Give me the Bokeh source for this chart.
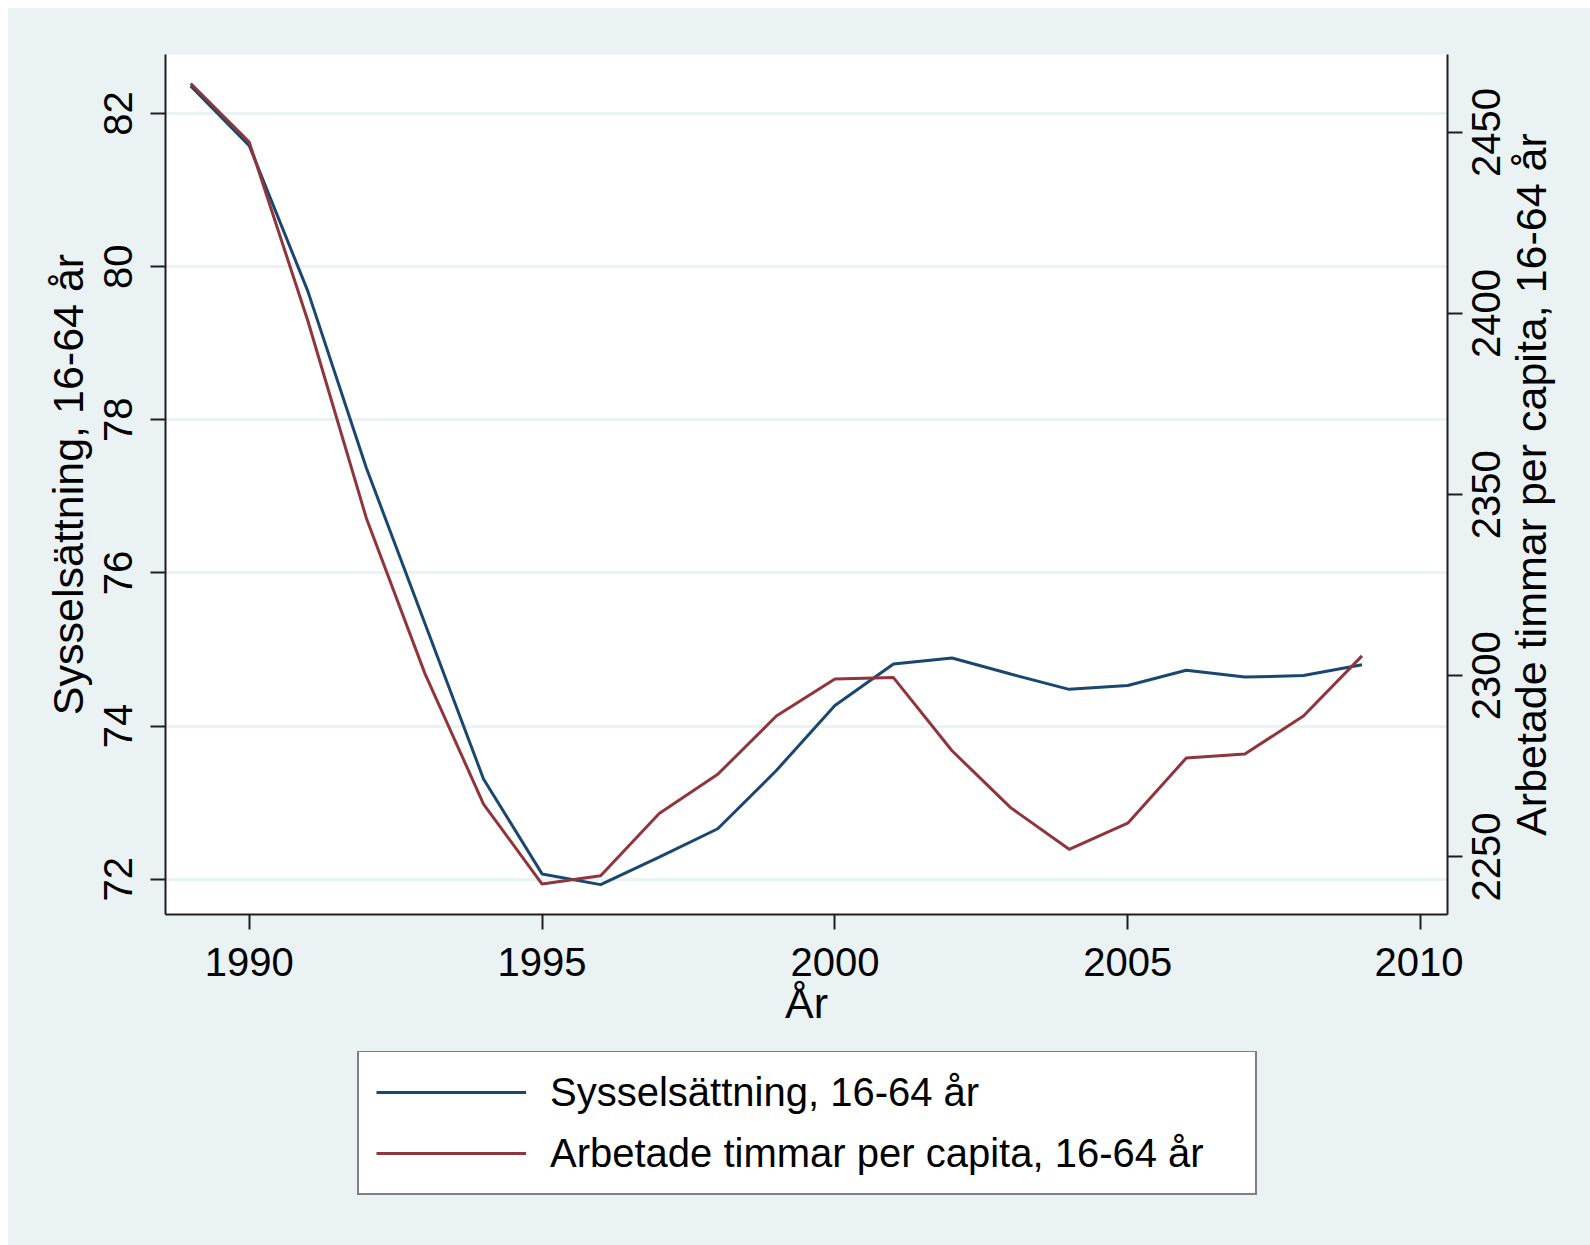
import math
from bokeh.plotting import figure
from bokeh.models import Range1d, LinearAxis, Legend, LegendItem, FixedTicker, Spacer
from bokeh.layouts import column, row
from bokeh.embed import file_html
from bokeh.resources import INLINE
from bokeh.core.properties import value

# ---- data ----
years = list(range(1989, 2010))
sysselsattning = [82.36, 81.58, 79.68, 77.37, 75.34, 73.31, 72.07, 71.93, 72.29, 72.66,
                  73.42, 74.27, 74.81, 74.89, 74.68, 74.48, 74.53, 74.73, 74.64, 74.66, 74.80]
timmar = [2463.5, 2447.3, 2398.0, 2343.5, 2300.6, 2264.6, 2242.5, 2244.8, 2262.0, 2272.8,
          2288.9, 2299.1, 2299.5, 2279.3, 2263.6, 2252.1, 2259.3, 2277.3, 2278.4, 2288.9, 2305.5]
x_ticks = [1990, 1995, 2000, 2005, 2010]
left_ticks = [72, 74, 76, 78, 80, 82]
right_ticks = [2250, 2300, 2350, 2400, 2450]
label_left = "Sysselsättning, 16-64 år"
label_right = "Arbetade timmar per capita, 16-64 år"
label_x = "År"

FONT = "Liberation Sans"
BG = "#EAF2F3"
NAVY = "#1A476F"
MAROON = "#90353B"
AX = "#1E1E1E"

X_RANGE = (1988.57, 2010.46)
YL_RANGE = (71.54, 82.77)
YR_RANGE = (2234.1, 2471.5)

W_TOTAL = 1582
H_TOTAL = 1237
FRAME_TOP = 46
FRAME_H = 860
FRAME_LEFT = 157
FRAME_W = 1282
FRAME_RIGHT_BORDER = 16
W_MAIN = FRAME_LEFT + FRAME_W + FRAME_RIGHT_BORDER   # main chart + legend strip width
W_RIGHT = W_TOTAL - W_MAIN
H_MAIN = 1043
H_LEG = H_TOTAL - H_MAIN
SHIFT = 20 - FRAME_RIGHT_BORDER   # keep right-strip texts at the same page position

p = figure(width=W_MAIN, height=H_MAIN, output_backend="svg", toolbar_location=None,
           x_range=Range1d(*X_RANGE), y_range=Range1d(*YL_RANGE),
           min_border_left=FRAME_LEFT, min_border_right=FRAME_RIGHT_BORDER,
           min_border_top=FRAME_TOP, min_border_bottom=H_MAIN - FRAME_TOP - FRAME_H,
           background_fill_color="white", border_fill_color=BG, outline_line_color=None)

p.extra_y_ranges = {"r": Range1d(*YR_RANGE)}
raxis = LinearAxis(y_range_name="r")
p.add_layout(raxis, "right")

for ax in p.axis:
    ax.axis_line_color = AX
    ax.axis_line_width = 2
    ax.major_tick_line_color = AX
    ax.major_tick_line_width = 2
    ax.major_tick_out = 15
    ax.major_tick_in = 0
    ax.minor_tick_line_color = None
    ax.major_label_text_font = FONT
    ax.major_label_text_font_size = "40px"
    ax.major_label_text_color = "black"
    ax.axis_label_text_font = FONT
    ax.axis_label_text_font_size = "43px"
    ax.axis_label_text_font_style = "normal"
    ax.axis_label_text_color = "black"

p.xaxis.ticker = FixedTicker(ticks=x_ticks)
p.xaxis.axis_label = label_x
p.xaxis.major_label_standoff = 18
p.xaxis.axis_label_standoff = 0

p.yaxis[0].ticker = FixedTicker(ticks=left_ticks)
p.yaxis[0].axis_label = label_left
p.yaxis[0].major_label_orientation = "vertical"
p.yaxis[0].major_label_standoff = 18
p.yaxis[0].axis_label_standoff = 10

# right axis: line + ticks here, its rotated labels are drawn in the strip to the right
raxis.ticker = FixedTicker(ticks=right_ticks)
raxis.major_label_overrides = {t: "" for t in right_ticks}
raxis.major_label_text_font_size = "0px"
raxis.major_label_standoff = 0

p.xgrid.visible = False
p.ygrid.ticker = FixedTicker(ticks=left_ticks)
p.ygrid.grid_line_color = BG
p.ygrid.grid_line_width = 3

p.line(years, sysselsattning, line_color=NAVY, line_width=3)
p.line(years, timmar, line_color=MAROON, line_width=3, y_range_name="r")

# ---- legend strip under the chart ----
q = figure(width=W_MAIN, height=H_LEG, output_backend="svg", toolbar_location=None,
           x_range=Range1d(0, 1), y_range=Range1d(0, 1),
           x_axis_location=None, y_axis_location=None,
           min_border_left=FRAME_LEFT, min_border_right=FRAME_RIGHT_BORDER,
           min_border_top=0, min_border_bottom=0,
           background_fill_color=BG, border_fill_color=BG, outline_line_color=None)
q.grid.visible = False
# same series, outside this strip's ranges: only their legend keys show
k1 = q.line(years, sysselsattning, line_color=NAVY, line_width=3)
k2 = q.line(years, timmar, line_color=MAROON, line_width=3)

legend = Legend(items=[LegendItem(label=label_left, renderers=[k1]),
                       LegendItem(label=label_right, renderers=[k2])],
                location=(192, H_LEG - 3 - 141), orientation="vertical",
                border_line_color="black", border_line_width=2,
                background_fill_color="white", background_fill_alpha=1,
                label_text_font=FONT, label_text_font_size="40px", label_text_color="black",
                glyph_width=150, glyph_height=46, label_height=46, label_width=688,
                spacing=15, padding=17, label_standoff=24, margin=0)
q.add_layout(legend, "center")

# ---- strip on the right: right-axis tick labels and title, rotated ----
r = figure(width=W_RIGHT, height=H_TOTAL, output_backend="svg", toolbar_location=None,
           x_range=Range1d(0, W_RIGHT), y_range=Range1d(*YR_RANGE),
           x_axis_location=None, y_axis_location=None,
           min_border_left=0, min_border_right=0,
           min_border_top=FRAME_TOP, min_border_bottom=H_TOTAL - FRAME_TOP - FRAME_H,
           background_fill_color=BG, border_fill_color=BG, outline_line_color=None)
r.grid.visible = False
r.text(x=[18.5 + SHIFT] * len(right_ticks), y=right_ticks, text=[str(t) for t in right_ticks],
       angle=math.pi / 2, text_align="center", text_baseline="alphabetic",
       text_font=value(FONT), text_font_size="40px", text_color="black")
r.text(x=[63 + SHIFT], y=[(YR_RANGE[0] + YR_RANGE[1]) / 2], text=[label_right],
       angle=math.pi / 2, text_align="center", text_baseline="alphabetic",
       text_font=value(FONT), text_font_size="43px", text_color="black")

inner = row(column(p, q, styles={"background-color": BG}), r,
            styles={"background-color": BG})
page = column(Spacer(width=1590, height=8),
              row(Spacer(width=8, height=H_TOTAL), inner))

open("out.html", "w").write(file_html(page, INLINE))
